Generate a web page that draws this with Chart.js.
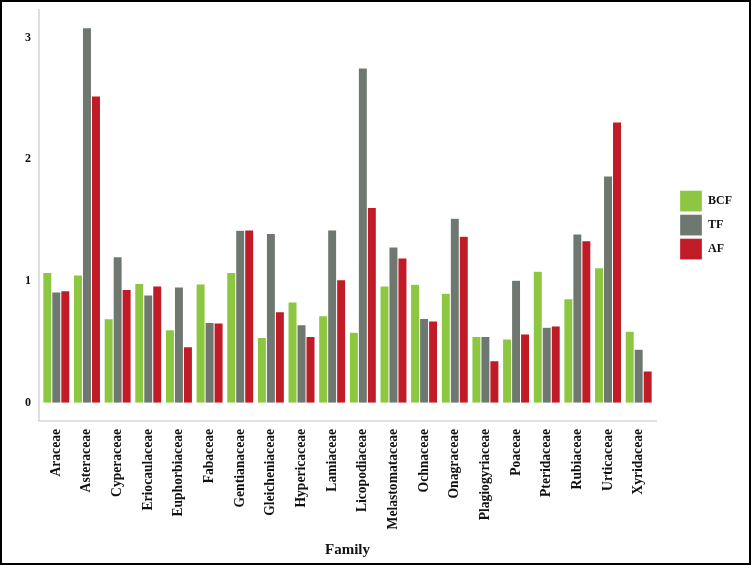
<!DOCTYPE html>
<html>
<head>
<meta charset="utf-8">
<script src="https://cdn.jsdelivr.net/npm/chart.js@4"></script>
<style>
  html, body { margin: 0; padding: 0; background: #fff; }
  #wrap { width: 751px; height: 565px; position: relative; }
</style>
</head>
<body>
<div id="wrap"><canvas id="c" width="751" height="565"></canvas></div>
<script>
const families = ["Araceae","Asteraceae","Cyperaceae","Eriocaulaceae","Euphorbiaceae","Fabaceae","Gentianaceae","Gleicheniaceae","Hypericaceae","Lamiaceae","Licopodiaceae","Melastomataceae","Ochnaceae","Onagraceae","Plagiogyriaceae","Poaceae","Pteridaceae","Rubiaceae","Urticaceae","Xyridaceae"];
const BCF = [1.07,1.05,0.69,0.98,0.60,0.975,1.07,0.537,0.827,0.715,0.58,0.96,0.973,0.90,0.545,0.523,1.08,0.855,1.11,0.587];
const TF  = [0.91,3.08,1.20,0.885,0.95,0.66,1.417,1.39,0.64,1.42,2.75,1.28,0.693,1.515,0.545,1.006,0.62,1.386,1.863,0.439];
const AF  = [0.92,2.52,0.93,0.96,0.46,0.655,1.42,0.748,0.545,1.01,1.605,1.19,0.671,1.367,0.345,0.565,0.63,1.33,2.307,0.26];
const yTicks = [0,1,2,3];

const serif = "'Liberation Serif', 'Times New Roman', serif";

const framePlugin = {
  id: 'frame',
  afterDraw(chart) {
    const {ctx, chartArea: a} = chart;
    ctx.save();
    ctx.strokeStyle = '#c8c8c8';
    ctx.lineWidth = 1.2;
    ctx.beginPath();
    ctx.moveTo(a.left - 2, a.top);
    ctx.lineTo(a.left - 2, a.bottom);
    ctx.lineTo(a.right + 3, a.bottom);
    ctx.stroke();
    ctx.strokeStyle = '#000';
    ctx.lineWidth = 2;
    ctx.strokeRect(1, 1, chart.width - 2, chart.height - 2);
    ctx.restore();
  }
};

new Chart(document.getElementById('c'), {
  type: 'bar',
  data: {
    labels: families,
    datasets: [
      {label: 'BCF', data: BCF, backgroundColor: '#8dc641'},
      {label: 'TF', data: TF, backgroundColor: '#6f7870'},
      {label: 'AF', data: AF, backgroundColor: '#c11b27'}
    ].map(d => Object.assign(d, {borderColor: 'rgba(255,255,255,0.6)', borderWidth: 0.5, categoryPercentage: 0.88, barPercentage: 1.0}))
  },
  options: {
    responsive: false,
    animation: false,
    layout: {padding: {top: 9, left: 0, right: 9, bottom: 6}},
    plugins: {
      legend: {
        position: 'right',
        fullSize: false,
        align: 'center',
        title: {display: true, text: ' ', font: {size: 1}, padding: {top: 10, bottom: 9}},
        labels: {
          boxWidth: 22, boxHeight: 21, padding: 3, color: '#111',
          font: {family: serif, size: 12, weight: 'bold'}
        }
      },
      tooltip: {enabled: false}
    },
    scales: {
      x: {
        grid: {display: false, drawTicks: false},
        border: {display: false},
        ticks: {
          color: '#111', padding: 8, minRotation: 90, maxRotation: 90, autoSkip: false,
          font: {family: serif, size: 13.6, weight: 'bold'}
        },
        title: {display: true, text: 'Family', color: '#111', padding: {top: 8, bottom: 0},
          font: {family: serif, size: 15, weight: 'bold'}},
        afterFit(s) { s.height = 138; s.paddingLeft = 0; s.paddingRight = 0; }
      },
      y: {
        min: -0.15, max: 3.235,
        grid: {display: false, drawTicks: false},
        border: {display: false},
        afterBuildTicks(s) { s.ticks = yTicks.map(v => ({value: v})); },
        ticks: {color: '#111', padding: 10, font: {family: serif, size: 12, weight: 'bold'}},
        afterFit(s) { s.width = 41; s.paddingTop = 0; s.paddingBottom = 0; }
      },
      spacer: {
        position: 'right', display: true,
        grid: {display: false, drawTicks: false},
        border: {display: false},
        ticks: {display: false},
        afterFit(s) { s.width = 23; s.paddingTop = 0; s.paddingBottom = 0; }
      }
    }
  },
  plugins: [framePlugin]
});
</script>
</body>
</html>
